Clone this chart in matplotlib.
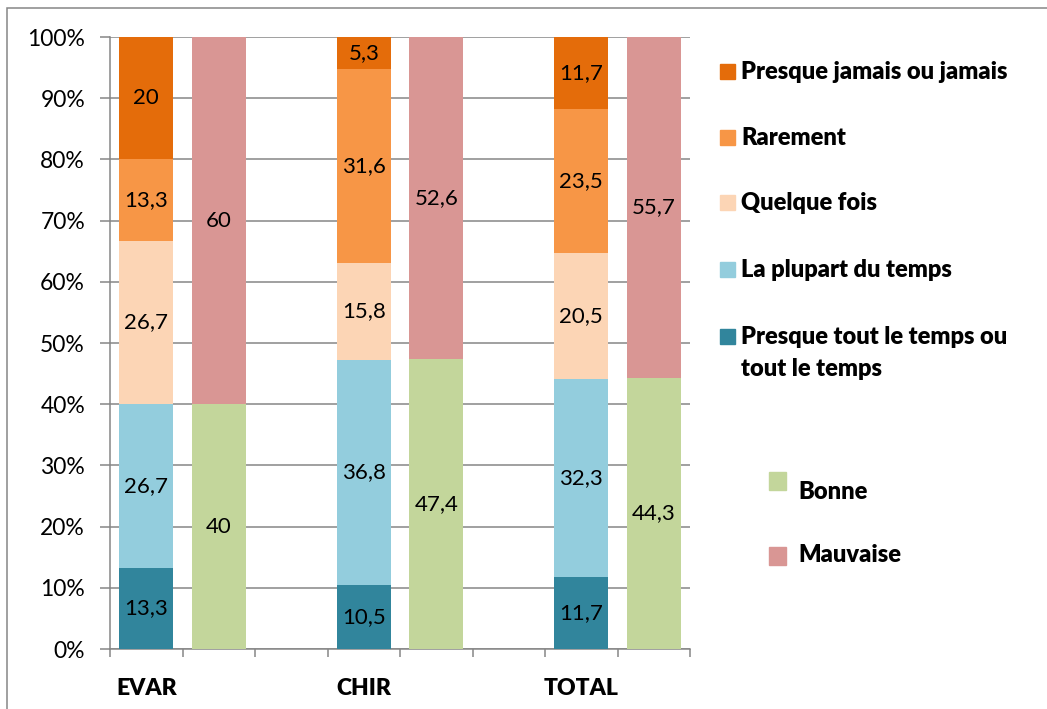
import numpy as np
import matplotlib.pyplot as plt
from matplotlib.patches import Rectangle

plt.rcParams['font.family'] = ['Lato', 'DejaVu Sans']

# Données
groupes = ['EVAR', 'CHIR', 'TOTAL']
frequences = ['Presque tout le temps ou\ntout le temps', 'La plupart du temps',
              'Quelque fois', 'Rarement', 'Presque jamais ou jamais']
freq_valeurs = [
    [13.3, 10.5, 11.7],   # Presque tout le temps
    [26.7, 36.8, 32.3],   # La plupart du temps
    [26.7, 15.8, 20.5],   # Quelque fois
    [13.3, 31.6, 23.5],   # Rarement
    [20.0, 5.3, 11.7],    # Presque jamais
]
freq_couleurs = ['#31859C', '#93CDDD', '#FCD5B5', '#F79646', '#E46C0A']

qualite = ['Bonne', 'Mauvaise']
qualite_valeurs = [
    [40.0, 47.4, 44.3],
    [60.0, 52.6, 55.7],
]
qualite_couleurs = ['#C3D69B', '#D99694']

W, H = 1047, 709
fig = plt.figure(figsize=(W / 100, H / 100), dpi=100)
ax = fig.add_axes([110 / W, 1 - 649 / H, 580 / W, 612 / H])

x_stack = np.array([0, 3, 6])
x_qual = x_stack + 1
largeur = 0.75

# barres empilées 100 %
freq = np.array(freq_valeurs)
freq_pct = freq / freq.sum(axis=0) * 100
bas = np.zeros(3)
for vals, pct, c in zip(freq, freq_pct, freq_couleurs):
    ax.bar(x_stack, pct, largeur, bottom=bas, color=c, zorder=3)
    for xi, b, p, v in zip(x_stack, bas, pct, vals):
        ax.text(xi, b + p / 2, f'{v:g}'.replace('.', ','), ha='center', va='center',
                fontsize=16, zorder=4)
    bas += pct

qual = np.array(qualite_valeurs)
qual_pct = qual / qual.sum(axis=0) * 100
bas = np.zeros(3)
for vals, pct, c in zip(qual, qual_pct, qualite_couleurs):
    ax.bar(x_qual, pct, largeur, bottom=bas, color=c, zorder=3)
    for xi, b, p, v in zip(x_qual, bas, pct, vals):
        ax.text(xi, b + p / 2, f'{v:g}'.replace('.', ','), ha='center', va='center',
                fontsize=16, zorder=4)
    bas += pct

# axes
gris = '#868686'
ax.set_xlim(-0.5, 7.5)
ax.set_ylim(0, 100)
ax.set_yticks(np.arange(0, 101, 10))
ax.set_yticklabels([f'{v}%' for v in range(0, 101, 10)], fontsize=16.5)
ax.yaxis.grid(True, color=gris, linewidth=1.1, zorder=0)
ax.tick_params(axis='y', length=7, width=1.1, color=gris, pad=11)
ax.set_xticks(x_stack)
ax.set_xticklabels(groupes, fontsize=16.5, fontweight='heavy')
ax.set_xticks(np.arange(-0.5, 8, 1), minor=True)
ax.tick_params(axis='x', which='major', length=0, pad=21)
ax.tick_params(axis='x', which='minor', length=6, width=1.1, color=gris)
for s in ['top', 'right']:
    ax.spines[s].set_visible(False)
for s in ['left', 'bottom']:
    ax.spines[s].set_color(gris)
    ax.spines[s].set_linewidth(1.1)


def px(x, y):
    return (x / W, 1 - y / H)


# légende des fréquences
leg_y = [72, 138, 203, 270, 337]
labels_haut = ['Presque jamais ou jamais', 'Rarement', 'Quelque fois',
               'La plupart du temps', 'Presque tout le temps ou\ntout le temps']
couleurs_haut = freq_couleurs[::-1]
for y, lab, c in zip(leg_y, labels_haut, couleurs_haut):
    fig.add_artist(Rectangle(px(720, y + 7), 15 / W, 15 / H, color=c,
                             transform=fig.transFigure))
    fig.text(*px(741, y - 11), lab, ha='left', va='top', fontsize=17,
             fontweight='heavy', linespacing=1.55)

# légende qualité
for y_box, y_txt, lab, c in zip([472, 547], [492, 555], qualite, qualite_couleurs):
    fig.add_artist(Rectangle(px(769, y_box + 18), 17 / W, 18 / H, color=c,
                             transform=fig.transFigure))
    fig.text(*px(798, y_txt), lab, ha='left', va='center', fontsize=17,
             fontweight='heavy')

# cadre du graphique
fig.add_artist(Rectangle(px(7, 720), 1100 / W, 712 / H, fill=False,
                         edgecolor=gris, linewidth=1.1, transform=fig.transFigure))

fig.savefig('out.png', dpi=100)
